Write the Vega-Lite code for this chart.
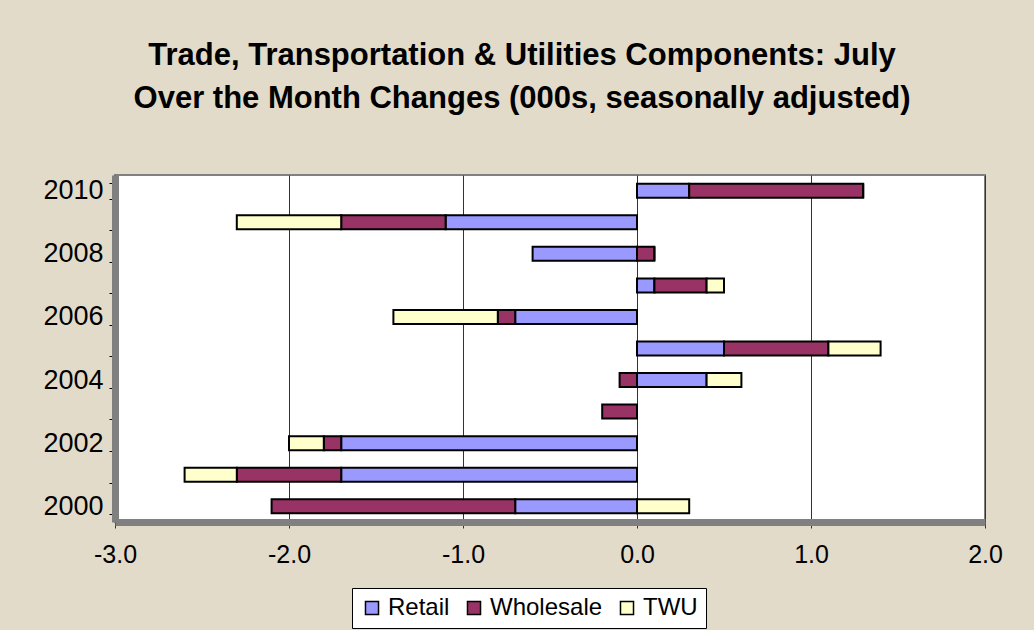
{
  "$schema": "https://vega.github.io/schema/vega-lite/v6.json",
  "autosize": {"type": "none"},
  "padding": {"left": 115, "top": 175, "right": 49, "bottom": 108},
  "width": 870,
  "height": 347,
  "background": "#e2dbc9",
  "title": {
    "text": ["Trade, Transportation & Utilities Components: July", "Over the Month Changes (000s, seasonally adjusted)"],
    "font": "Liberation Sans",
    "fontSize": 31,
    "fontWeight": "bold",
    "color": "black",
    "lineHeight": 43,
    "anchor": "middle",
    "dx": -28,
    "offset": 46
  },
  "data": {
    "values": [
      {"year": "2010", "series": "Retail", "ord": 1, "value": 0.3},
      {"year": "2010", "series": "Wholesale", "ord": 2, "value": 1.0},
      {"year": "2010", "series": "TWU", "ord": 3, "value": 0.0},
      {"year": "2009", "series": "Retail", "ord": 1, "value": -1.1},
      {"year": "2009", "series": "Wholesale", "ord": 2, "value": -0.6},
      {"year": "2009", "series": "TWU", "ord": 3, "value": -0.6},
      {"year": "2008", "series": "Retail", "ord": 1, "value": -0.6},
      {"year": "2008", "series": "Wholesale", "ord": 2, "value": 0.1},
      {"year": "2008", "series": "TWU", "ord": 3, "value": 0.0},
      {"year": "2007", "series": "Retail", "ord": 1, "value": 0.1},
      {"year": "2007", "series": "Wholesale", "ord": 2, "value": 0.3},
      {"year": "2007", "series": "TWU", "ord": 3, "value": 0.1},
      {"year": "2006", "series": "Retail", "ord": 1, "value": -0.7},
      {"year": "2006", "series": "Wholesale", "ord": 2, "value": -0.1},
      {"year": "2006", "series": "TWU", "ord": 3, "value": -0.6},
      {"year": "2005", "series": "Retail", "ord": 1, "value": 0.5},
      {"year": "2005", "series": "Wholesale", "ord": 2, "value": 0.6},
      {"year": "2005", "series": "TWU", "ord": 3, "value": 0.3},
      {"year": "2004", "series": "Retail", "ord": 1, "value": 0.4},
      {"year": "2004", "series": "Wholesale", "ord": 2, "value": -0.1},
      {"year": "2004", "series": "TWU", "ord": 3, "value": 0.2},
      {"year": "2003", "series": "Retail", "ord": 1, "value": 0.0},
      {"year": "2003", "series": "Wholesale", "ord": 2, "value": -0.2},
      {"year": "2003", "series": "TWU", "ord": 3, "value": 0.0},
      {"year": "2002", "series": "Retail", "ord": 1, "value": -1.7},
      {"year": "2002", "series": "Wholesale", "ord": 2, "value": -0.1},
      {"year": "2002", "series": "TWU", "ord": 3, "value": -0.2},
      {"year": "2001", "series": "Retail", "ord": 1, "value": -1.7},
      {"year": "2001", "series": "Wholesale", "ord": 2, "value": -0.6},
      {"year": "2001", "series": "TWU", "ord": 3, "value": -0.3},
      {"year": "2000", "series": "Retail", "ord": 1, "value": -0.7},
      {"year": "2000", "series": "Wholesale", "ord": 2, "value": -1.4},
      {"year": "2000", "series": "TWU", "ord": 3, "value": 0.3}
    ]
  },
  "mark": {"type": "bar", "stroke": "black", "strokeWidth": 2, "size": 14},
  "encoding": {
    "y": {
      "field": "year",
      "type": "ordinal",
      "sort": "descending",
      "scale": {"paddingInner": 0.5, "paddingOuter": 0.25},
      "axis": {
        "title": null,
        "labelExpr": "toNumber(datum.value) % 2 == 0 ? datum.value : ''",
        "labelFont": "Liberation Sans",
        "labelFontSize": 27,
        "labelColor": "black",
        "labelPadding": 6,
        "tickBand": "extent",
        "tickColor": "black",
        "tickSize": 6,
        "domainColor": "#808080",
        "domainWidth": 7,
        "labelBound": false
      }
    },
    "x": {
      "field": "value",
      "type": "quantitative",
      "stack": "zero",
      "scale": {"domain": [-3, 2], "nice": false, "zero": false},
      "axis": {
        "title": null,
        "values": [-3, -2, -1, 0, 1, 2],
        "format": ".1f",
        "labelExpr": "replace(datum.label, '\u2212', '-')",
        "labelFont": "Liberation Sans",
        "labelFontSize": 25,
        "labelColor": "black",
        "labelPadding": 14,
        "tickColor": "#333333",
        "tickSize": 6,
        "domainColor": "#808080",
        "domainWidth": 7,
        "grid": true,
        "gridColor": "#333333",
        "gridWidth": 1,
        "labelFlush": false
      }
    },
    "color": {
      "field": "series",
      "type": "nominal",
      "sort": ["Retail", "Wholesale", "TWU"],
      "scale": {"domain": ["Retail", "Wholesale", "TWU"], "range": ["#9999ff", "#993366", "#ffffcc"]},
      "legend": {
        "title": null,
        "orient": "none",
        "direction": "horizontal",
        "legendX": 237,
        "legendY": 413,
        "fillColor": "white",
        "strokeColor": "black",
        "padding": 8,
        "labelFont": "Liberation Sans",
        "labelFontSize": 24,
        "labelColor": "black",
        "symbolType": "square",
        "symbolSize": 170,
        "symbolStrokeColor": "black",
        "symbolStrokeWidth": 1.5,
        "symbolOpacity": 1,
        "columnPadding": 12,
        "labelOffset": 4
      }
    },
    "order": {"field": "ord", "type": "quantitative"}
  },
  "config": {
    "view": {"fill": "white", "stroke": "#808080", "strokeWidth": 2}
  }
}
